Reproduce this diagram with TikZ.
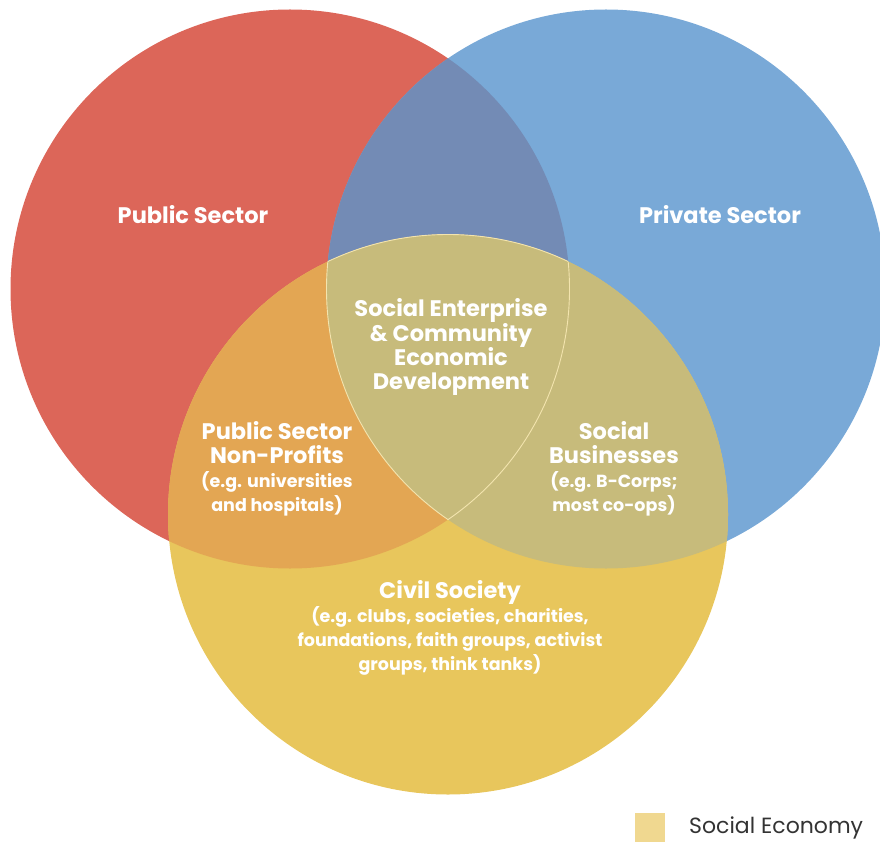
\documentclass[tikz,border=0pt]{standalone}
\usepackage{fontspec}
\setmainfont{Poppins}
\definecolor{cRed}{HTML}{DC6659}
\definecolor{cBlue}{HTML}{79A9D7}
\definecolor{cRB}{HTML}{738BB5}
\definecolor{cYel}{HTML}{E8C65C}
\definecolor{cRY}{HTML}{E3A653}
\definecolor{cBY}{HTML}{C7BB7B}
\definecolor{cLine}{HTML}{F3E4AE}
\definecolor{cLegend}{HTML}{F0D890}
\definecolor{cText}{HTML}{333333}
\tikzset{
  head/.style={text=white, font=\bfseries\fontsize{22.5}{24}\selectfont, align=center, inner sep=0pt},
  sub/.style={text=white, font=\bfseries\fontsize{17.5}{24}\selectfont, align=center, inner sep=0pt},
  outline/.style={draw=cLine, line width=0.9pt},
}
\begin{document}
\begin{tikzpicture}[x=1pt,y=-1pt]
\useasboundingbox (0,0) rectangle (880,842);
\clip (0,0) rectangle (880,842);
\def\redc{(290,289) circle (279.5pt)}
\def\bluec{(606,289) circle (279.5pt)}
\def\yelc{(448,514.5) circle (280pt)}
% base circles
\fill[cRed] \redc;
\fill[cBlue] \bluec;
\begin{scope}\clip \redc; \fill[cRB] \bluec; \end{scope}
\fill[cYel] \yelc;
\begin{scope}\clip \yelc; \fill[cRY] \redc; \fill[cBY] \bluec; \end{scope}
% outline of the central region
\begin{scope}\clip \yelc; \clip \redc; \draw[outline] \bluec; \end{scope}
\begin{scope}\clip \yelc; \clip \bluec; \draw[outline] \redc; \end{scope}
\begin{scope}\clip \redc; \clip \bluec; \draw[outline] \yelc; \end{scope}
% labels
\node[head] (pub) at (193,215) {Public Sector};
\node[head] (priv) at (720,215) {Private Sector};
\node[head] (core) at (451,347) {Social Enterprise\\\& Community\\Economic\\Development};
\node[head] (pnp) at (277,443) {Public Sector\\Non-Profits};
\node[sub] (pnpsub) at (277,494) {(e.g. universities\\and hospitals)};
\node[head] (sb) at (614,443) {Social\\Businesses};
\node[sub] (sbsub) at (614,494) {(e.g. B-Corps;\\most co-ops)};
\node[head] (civ) at (450,592) {Civil Society};
\node[sub] (civsub) at (450,641) {(e.g. clubs, societies, charities,\\foundations, faith groups, activist\\groups, think tanks)};
% legend
\fill[cLegend] (635,813) rectangle (665,842);
\node[anchor=west, text=cText, font=\fontsize{22}{24}\selectfont, inner sep=0pt] (leg) at (689,828) {Social Economy};
\end{tikzpicture}
\end{document}
